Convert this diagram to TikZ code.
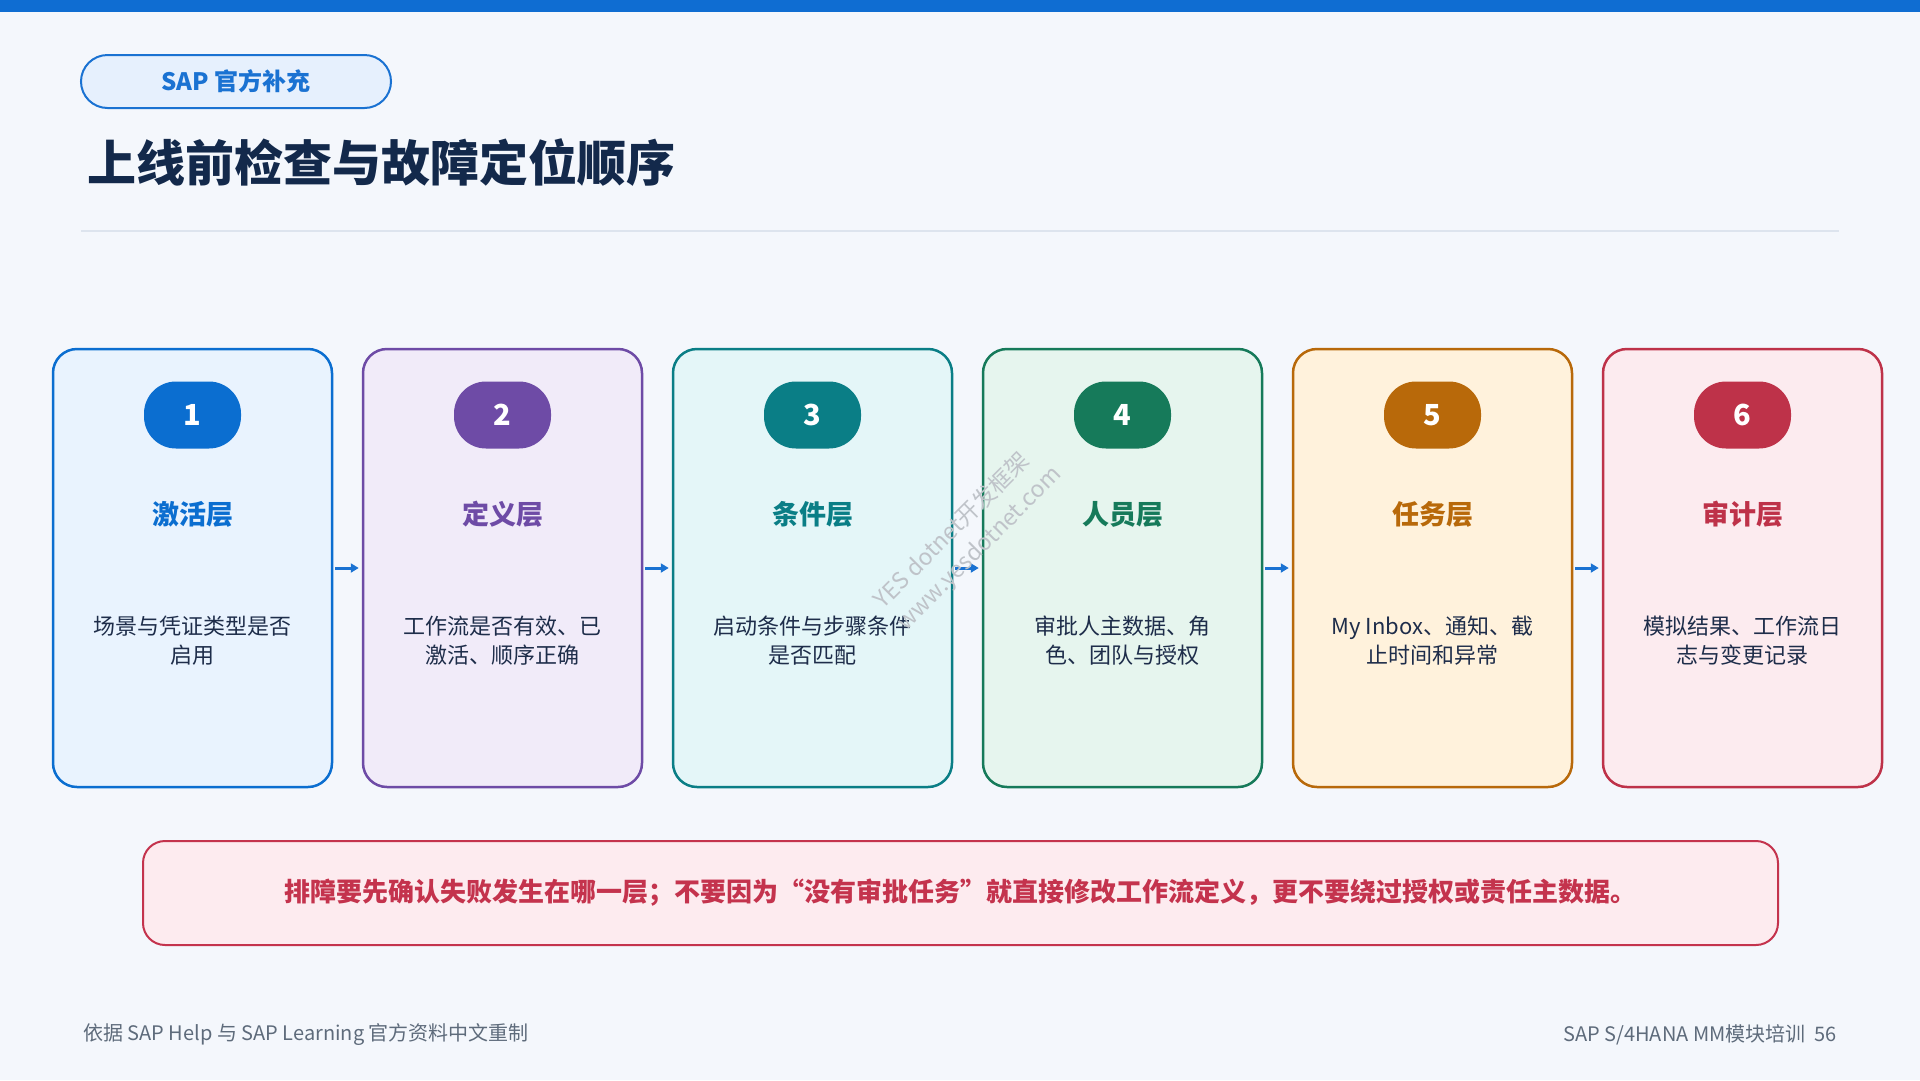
\documentclass[tikz,border=0pt]{standalone}
\usepackage{fontspec}
\setmainfont{Noto Sans CJK SC}
\usetikzlibrary{arrows.meta}
\definecolor{bgc}{HTML}{F4F7FC}
\definecolor{topbar}{HTML}{0F6DD2}
\definecolor{navy}{HTML}{13294B}
\definecolor{descc}{HTML}{1E2D4A}
\definecolor{footc}{HTML}{5E6B7B}
\definecolor{sepc}{HTML}{DDE4EE}
\definecolor{pillc}{HTML}{1A72D2}
\definecolor{pillfill}{HTML}{E6F0FD}
\definecolor{arrowc}{HTML}{1A72D2}
\definecolor{colA}{HTML}{0B6ED0}\definecolor{fillA}{HTML}{E9F3FE}
\definecolor{colB}{HTML}{6E4BA6}\definecolor{fillB}{HTML}{F1EBF9}
\definecolor{colC}{HTML}{0A7E86}\definecolor{fillC}{HTML}{E4F6F8}
\definecolor{colD}{HTML}{167A5A}\definecolor{fillD}{HTML}{E6F5EE}
\definecolor{colE}{HTML}{B8690A}\definecolor{fillE}{HTML}{FFF2DC}
\definecolor{colF}{HTML}{BE3249}\definecolor{fillF}{HTML}{FCEBEF}
\definecolor{warnc}{HTML}{C4334D}
\definecolor{warnfill}{HTML}{FDEBEF}
\definecolor{wmc}{HTML}{BFC3C9}
\begin{document}
\begin{tikzpicture}[x=1pt,y=-1pt,
  cardbox/.style={draw, line width=2.5pt, rounded corners=24pt, minimum width=279pt, minimum height=438pt, inner sep=0pt},
  badge/.style={rounded corners=32pt, minimum width=97pt, minimum height=67pt, inner sep=0pt, text=white, font=\fontsize{29}{30}\selectfont\bfseries},
  ctitle/.style={inner sep=0pt, font=\fontsize{27}{30}\selectfont\bfseries},
  cdesc/.style={inner sep=0pt, font=\fontsize{22}{29}\selectfont, text=descc, align=center},
  arr/.style={-{Triangle[length=8pt,width=9pt]}, line width=3pt, draw=arrowc},
  wm/.style={inner sep=0pt, text=wmc, rotate=45, font=\fontsize{23}{24}\selectfont},
  foot/.style={inner sep=0pt, text=footc, font=\fontsize{20}{21}\selectfont}
]
\useasboundingbox (0,0) rectangle (1920,1080);
\fill[bgc] (0,0) rectangle (1920,1080);
\fill[topbar] (0,0) rectangle (1920,12);

\node[draw=pillc, line width=2pt, fill=pillfill, rounded corners=26.5pt, minimum width=310pt, minimum height=53pt, inner sep=0pt,
  text=pillc, font=\fontsize{24}{25}\selectfont\bfseries] (pill) at (236,81.5) {SAP 官方补充};
\node[anchor=west, inner sep=0pt, text=navy, font=\fontsize{49}{51}\selectfont\bfseries] (title) at (87,163) {上线前检查与故障定位顺序};
\draw[sepc, line width=2pt] (81,231) coordinate (sepl) -- (1839,231) coordinate (sepr);

\foreach \i/\L/\t/\d in {
  1/A/激活层/{场景与凭证类型是否\\启用},
  2/B/定义层/{工作流是否有效、已\\激活、顺序正确},
  3/C/条件层/{启动条件与步骤条件\\是否匹配},
  4/D/人员层/{审批人主数据、角\\色、团队与授权},
  5/E/任务层/{My Inbox、通知、截\\止时间和异常},
  6/F/审计层/{模拟结果、工作流日\\志与变更记录}}{
  \pgfmathsetmacro{\cx}{192.5+310*(\i-1)}
  \node[cardbox, draw=col\L, fill=fill\L] (card\i) at (\cx,568) {};
  \node[badge, fill=col\L] (badge\i) at (\cx,415) {\i};
  \node[ctitle, text=col\L] (title\i) at (\cx,514) {\t};
  \node[cdesc] (desc\i) at (\cx,641) {\d};
}
\foreach \i [evaluate=\i as \j using int(\i+1)] in {1,...,5}{
  \draw[arr] ([xshift=2pt]card\i.east) -- ([xshift=-3pt]card\j.west);
}

\node[wm] (wm1) at (951,530) {YES dotnet开发框架};
\node[wm] (wm2) at (980,549) {www.yesdotnet.com};

\node[draw=warnc, line width=2pt, fill=warnfill, rounded corners=22pt, minimum width=1635pt, minimum height=104pt, inner sep=0pt,
  text=warnc, font=\fontsize{26}{28}\selectfont\bfseries] (warn) at (960.5,893)
  {排障要先确认失败发生在哪一层；不要因为“没有审批任务”就直接修改工作流定义，更不要绕过授权或责任主数据。};

\node[foot, anchor=west] (footl) at (83,1035) {依据 SAP Help 与 SAP Learning 官方资料中文重制};
\node[foot, anchor=east] (footr) at (1837,1035) {SAP S/4HANA MM模块培训\ \ 56};
\end{tikzpicture}
\end{document}
